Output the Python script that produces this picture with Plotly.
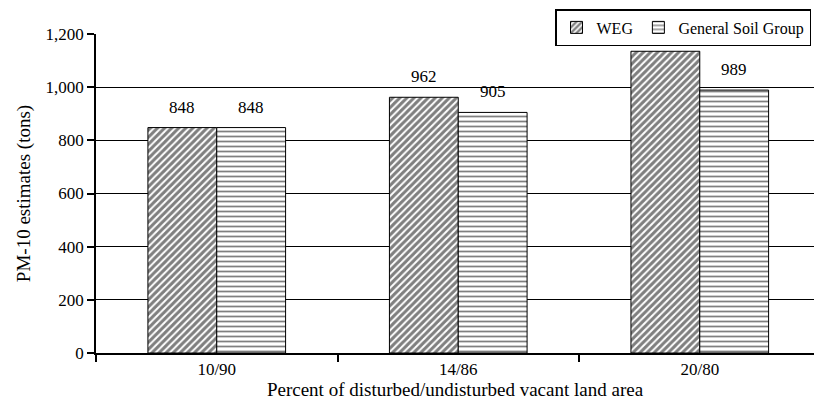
import plotly.graph_objects as go

# Data
categories = ["10/90", "14/86", "20/80"]
weg_values = [848, 962, 1135]
gsg_values = [848, 905, 989]
weg_labels = ["848", "962", ""]
gsg_labels = ["848", "905", "989"]
y_ticks = [0, 200, 400, 600, 800, 1000, 1200]
x_title = "Percent of disturbed/undisturbed vacant land area"
y_title = "PM-10 estimates (tons)"

FONT = "Liberation Serif"

fig = go.Figure()

fig.add_trace(go.Bar(
    name="WEG",
    x=categories,
    y=weg_values,
    marker=dict(
        color="white",
        line=dict(color="black", width=1),
        pattern=dict(shape="/", fgcolor="black", bgcolor="white",
                     size=5, solidity=0.6, fillmode="overlay"),
    ),
))

fig.add_trace(go.Bar(
    name="General Soil Group",
    x=categories,
    y=gsg_values,
    marker=dict(
        color="white",
        line=dict(color="black", width=1),
        pattern=dict(shape="-", fgcolor="black", bgcolor="white",
                     size=5, solidity=0.35, fillmode="overlay"),
    ),
))

# Value labels above the bars
bar_offset = 34.5
for labels, values, shift in ((weg_labels, weg_values, -bar_offset),
                              (gsg_labels, gsg_values, bar_offset)):
    for cat, lab, val in zip(categories, labels, values):
        if not lab:
            continue
        fig.add_annotation(
            x=cat, y=val, text=lab, showarrow=False,
            xshift=shift, yshift=9, yanchor="bottom",
            font=dict(family=FONT, size=17, color="black"),
        )

fig.update_layout(
    width=814,
    height=407,
    margin=dict(l=96, r=0, t=34, b=54, autoexpand=False),
    plot_bgcolor="white",
    paper_bgcolor="white",
    barmode="group",
    bargap=0.43,
    bargroupgap=0,
    font=dict(family=FONT, size=16, color="black"),
    showlegend=True,
    legend=dict(
        orientation="h",
        x=1 - 3 / 718, y=1 + 25 / 319,
        xanchor="right", yanchor="top",
        bgcolor="white",
        bordercolor="black",
        borderwidth=1.5,
        font=dict(family=FONT, size=16, color="black"),
        itemwidth=30,
        tracegroupgap=0,
    ),
)

fig.update_xaxes(
    range=[-0.5, 2.473],
    showline=True, linecolor="black", linewidth=1.5,
    ticks="outside", tickson="boundaries", ticklen=7,
    tickcolor="black", tickwidth=1.5,
    showgrid=False,
    tickfont=dict(family=FONT, size=17),
    title=dict(text=x_title, font=dict(family=FONT, size=19), standoff=0),
)

fig.update_yaxes(
    range=[0, 1200],
    tickvals=y_ticks,
    tickformat=",",
    showline=True, linecolor="black", linewidth=1.5,
    ticks="outside", ticklen=7, tickcolor="black", tickwidth=1.5,
    showgrid=True, gridcolor="black", gridwidth=1.2,
    zeroline=False,
    tickfont=dict(family=FONT, size=17),
    title=dict(text=y_title, font=dict(family=FONT, size=19), standoff=10),
)

fig.write_html("out.html")
